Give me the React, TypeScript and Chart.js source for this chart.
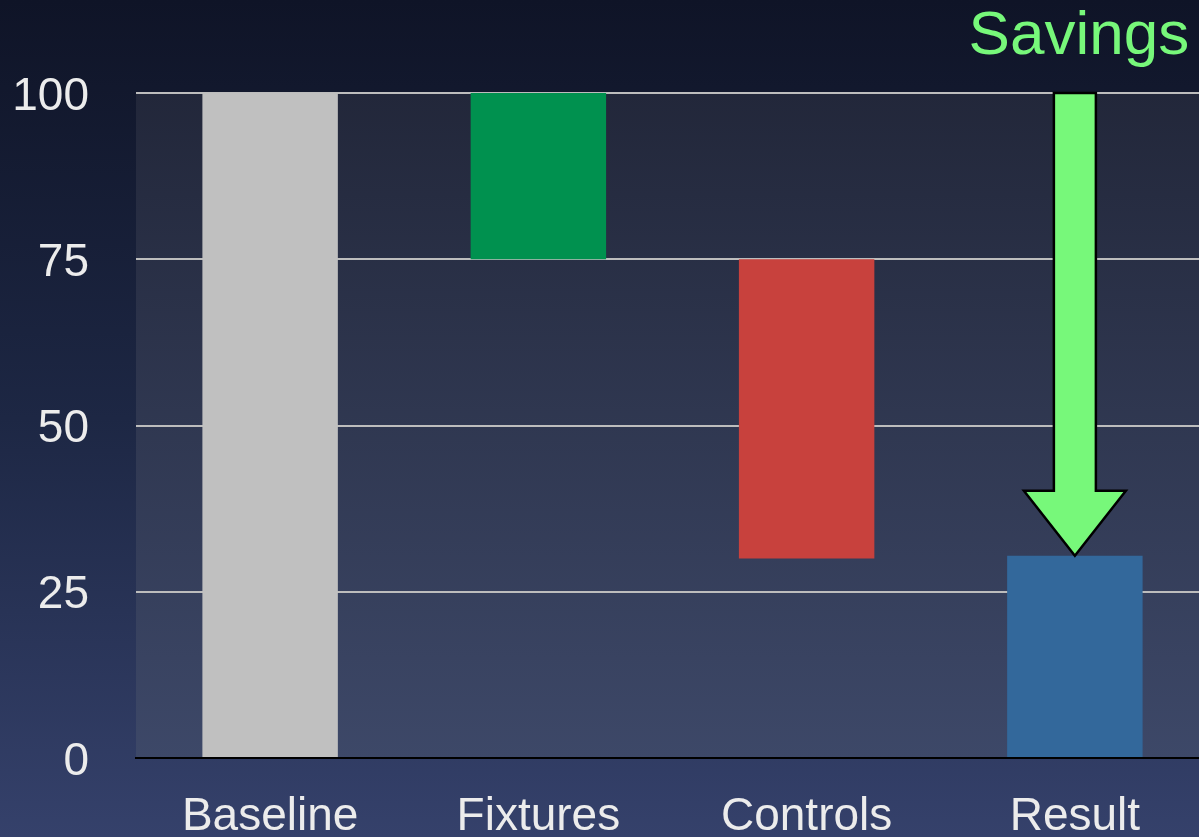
import React, { useEffect, useRef } from "react";
import { Chart, registerables } from "chart.js";

Chart.register(...registerables);

const categories = ["Baseline", "Fixtures", "Controls", "Result"];
const barStarts = [0, 75, 30, 0];
const barEnds = [100, 100, 75, 30.4];
const barColors = ["#c0c0c0", "#00914f", "#c8413d", "#33689b"];
const yTicks = [0, 25, 50, 75, 100];
const arrowLabel = "Savings";
const arrowCategoryIndex = 3;
const arrowFrom = 100;
const arrowTo = 30.4;

const FONT = "'Liberation Sans', Arial, Helvetica, sans-serif";

const W = 1209;
const H = 837;

export default function App() {
  const ref = useRef<HTMLCanvasElement | null>(null);

  useEffect(() => {
    document.body.style.margin = "0";
    const canvas = ref.current;
    if (!canvas) return;

    const plotBg = {
      id: "plotBg",
      beforeDraw(chart: any) {
        const { ctx, chartArea } = chart;
        const g = ctx.createLinearGradient(0, chartArea.top, 0, chartArea.bottom);
        g.addColorStop(0, "#22273a");
        g.addColorStop(1, "#3d4868");
        ctx.save();
        ctx.fillStyle = g;
        ctx.fillRect(chartArea.left, chartArea.top, chartArea.right - chartArea.left, chartArea.bottom - chartArea.top);
        ctx.restore();
      },
    };

    const arrowPlugin = {
      id: "arrowPlugin",
      afterDatasetsDraw(chart: any) {
        const { ctx } = chart;
        const xs = chart.scales.x;
        const ys = chart.scales.y;
        const cx = xs.getPixelForValue(arrowCategoryIndex);
        const yTop = ys.getPixelForValue(arrowFrom);
        const yTip = ys.getPixelForValue(arrowTo);
        const shaftHalf = 21;
        const headHalf = 51;
        const headH = 65;
        const yHead = yTip - headH;
        ctx.save();
        ctx.beginPath();
        ctx.moveTo(cx - shaftHalf, yTop);
        ctx.lineTo(cx + shaftHalf, yTop);
        ctx.lineTo(cx + shaftHalf, yHead);
        ctx.lineTo(cx + headHalf, yHead);
        ctx.lineTo(cx, yTip);
        ctx.lineTo(cx - headHalf, yHead);
        ctx.lineTo(cx - shaftHalf, yHead);
        ctx.closePath();
        ctx.fillStyle = "#77f87a";
        ctx.fill();
        ctx.lineWidth = 2.5;
        ctx.lineJoin = "miter";
        ctx.strokeStyle = "#000000";
        ctx.stroke();

        ctx.font = `62px ${FONT}`;
        ctx.fillStyle = "#77f87a";
        ctx.textAlign = "center";
        ctx.textBaseline = "alphabetic";
        ctx.fillText(arrowLabel, cx + 4, 54);
        ctx.restore();
      },
    };

    const chart = new Chart(canvas, {
      type: "bar",
      data: {
        labels: categories,
        datasets: [
          {
            data: categories.map((_, i) => [barStarts[i], barEnds[i]]) as any,
            backgroundColor: barColors,
            borderWidth: 0,
            borderSkipped: false,
            categoryPercentage: 1,
            barPercentage: 0.505,
          },
        ],
      },
      options: {
        responsive: false,
        animation: false,
        devicePixelRatio: 1,
        layout: { padding: { top: 93, right: 0, left: 0, bottom: 0 } },
        plugins: {
          legend: { display: false },
          tooltip: { enabled: false },
          title: { display: false },
        },
        scales: {
          x: {
            grid: { display: false, drawTicks: false },
            border: { display: true, color: "#000000", width: 2 },
            ticks: {
              color: "#ececec",
              font: { family: FONT, size: 46 },
              padding: 32,
              maxRotation: 0,
            },
            afterFit(scale: any) {
              scale.height = 79;
            },
          },
          y: {
            min: 0,
            max: 100,
            afterBuildTicks(scale: any) {
              scale.ticks = yTicks.map((v) => ({ value: v }));
            },
            grid: {
              drawTicks: false,
              color: (c: any) => (c.tick && c.tick.value === 0 ? "rgba(0,0,0,0)" : "#bdbdbd"),
              lineWidth: 2,
            },
            border: { display: false },
            ticks: {
              color: "#ececec",
              font: { family: FONT, size: 46 },
              padding: 47,
              labelOffset: 4,
            },
            afterFit(scale: any) {
              scale.width = 136;
            },
          },
        },
      },
      plugins: [plotBg, arrowPlugin],
    });

    return () => chart.destroy();
  }, []);

  return (
    <div
      style={{
        position: "fixed",
        left: 0,
        top: 0,
        width: 1199,
        height: 837,
        overflow: "hidden",
        background: "linear-gradient(to bottom, #0f1427 0%, #1d2744 50%, #35416b 100%)",
      }}
    >
      <canvas
        ref={ref}
        width={W}
        height={H}
        style={{ position: "absolute", left: 0, top: 0, width: W, height: H }}
      />
    </div>
  );
}
